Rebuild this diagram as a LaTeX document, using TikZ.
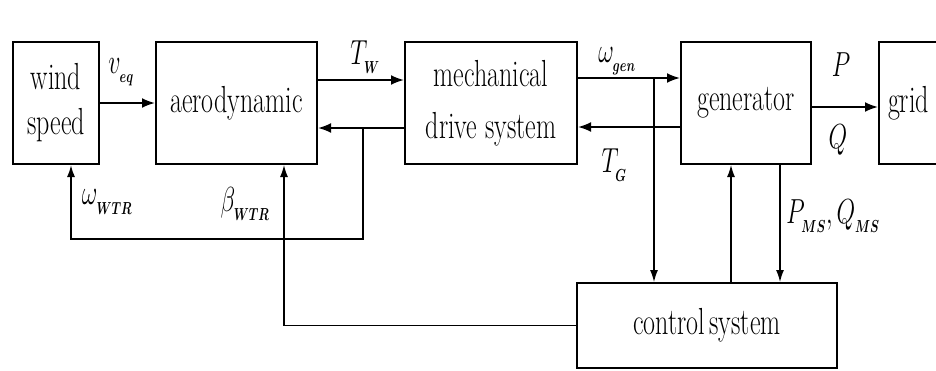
\RequirePackage{fix-cm}
\documentclass[tikz,border=0pt]{standalone}
\usepackage{amsmath}
\usepackage{graphicx}
\usetikzlibrary{arrows.meta}
\newcommand{\vstr}[1]{\scalebox{1}[1.45]{#1}}
\newcommand{\sbs}[1]{\lower3pt\hbox{$\scriptscriptstyle\boldsymbol{#1}$}}
\begin{document}
\begin{tikzpicture}[x=1pt, y=-1pt]
	\tikzset{blk/.style={draw=black, line width=2pt, minimum height=122pt, inner sep=0pt, align=center, font=\fontsize{26}{52}\selectfont}};
	\tikzset{arr/.style={line width=2pt, -{Latex[length=13pt, width=10pt]}}};
	\tikzset{tarr/.style={line width=1.3pt, -{Latex[length=12pt, width=8pt]}}};
	\tikzset{lbl/.style={inner sep=0pt, font=\fontsize{24}{28}\selectfont}};

	\useasboundingbox (0,0) rectangle (936,370);
	\clip (0,0) rectangle (936,370);

	\node[blk, minimum width=86pt, font=\fontsize{26}{45}\selectfont] (wind) at (56,103) {\vstr{wind}\\\vstr{speed}};
	\node[blk, minimum width=161pt] (aero) at (236.5,103) {\vstr{aerodynamic}};
	\node[blk, minimum width=172pt] (mech) at (491,103) {\vstr{mechanical}\\\vstr{drive system}};
	\node[blk, minimum width=130pt] (gen) at (746,103) {\vstr{generator}};
	\node[blk, minimum width=59pt] (grid) at (908.5,103) {\vstr{grid}};
	\node[blk, minimum width=260pt, minimum height=85pt] (ctrl) at (707,325.5) {\vstr{control\,system}};

	\coordinate (fb) at (363,128);
	\coordinate (fbl) at (71,239);
	\coordinate (wb) at (654,78);

	\draw[arr] (wind) to (aero);
	\draw[arr] ([yshift=23pt]aero.east) to ([yshift=23pt]mech.west);
	\draw[arr] ([yshift=-25pt]mech.west) to ([yshift=-25pt]aero.east);
	\draw[line width=1.7pt, -{Latex[length=12pt, width=8pt]}] (fb) |- (fbl) to (fbl |- wind.south);

	\draw[tarr] (ctrl.west) -| ([xshift=47.5pt]aero.south);

	\draw[arr] ([yshift=25pt]mech.east) to ([yshift=25pt]gen.west);
	\draw[tarr] (wb) to (wb |- ctrl.north);
	\draw[arr] ([yshift=-24pt]gen.west) to ([yshift=-24pt]mech.east);

	\draw[arr] ([yshift=-4pt]gen.east) to ([yshift=-4pt]grid.west);

	\draw[tarr] ([xshift=24pt]ctrl.north) to ([xshift=-15pt]gen.south);
	\draw[tarr] ([xshift=34pt]gen.south) to ([xshift=73pt]ctrl.north);

	\node[lbl] (veq) at (121,72) {\vstr{$v_{\sbs{eq}}$}};
	\node[lbl] (tw) at (365,57) {\vstr{$T_{\sbs{W}}$}};
	\node[lbl] (wgen) at (617,61) {\vstr{$\omega_{\sbs{gen}}$}};
	\node[lbl] (tg) at (614,165) {\vstr{$T_{\sbs{G}}$}};
	\node[lbl] (p) at (841,65) {\vstr{$P$}};
	\node[lbl] (q) at (838,140) {\vstr{$Q$}};
	\node[lbl] (pq) at (833,216) {\vstr{$P_{\sbs{MS}}, Q_{\sbs{MS}}$}};
	\node[lbl] (wwtr) at (107,202) {\vstr{$\omega_{\sbs{WTR}}$}};
	\node[lbl] (bwtr) at (245,204) {\vstr{$\beta_{\sbs{WTR}}$}};

\end{tikzpicture}
\end{document}
